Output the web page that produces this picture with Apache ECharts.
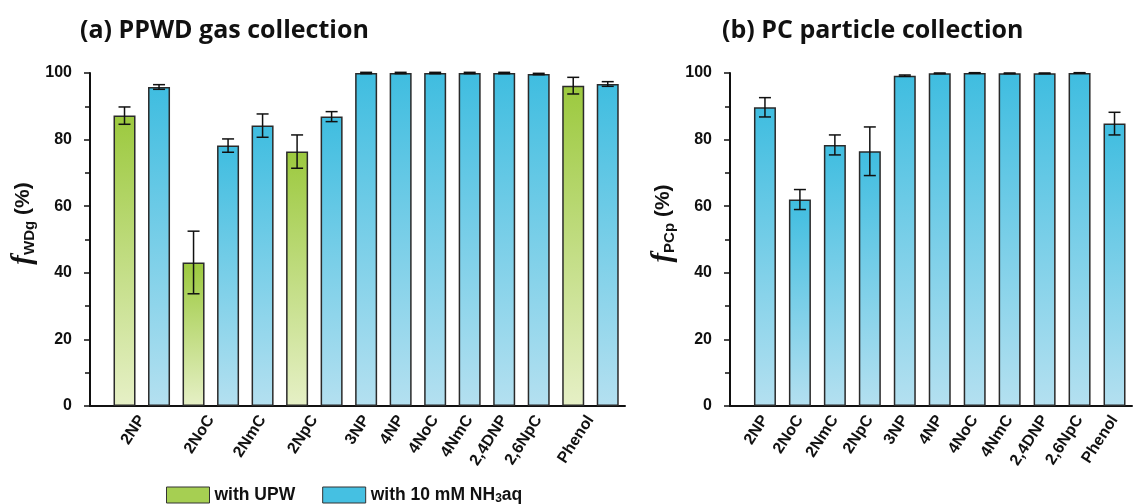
<!DOCTYPE html>
<html>
<head>
<meta charset="utf-8">
<script src="https://cdn.jsdelivr.net/npm/echarts@6/dist/echarts.min.js"></script>
<style>
  html, body { margin: 0; padding: 0; background: #fff; }
  #chart { width: 1135px; height: 504px; }
</style>
</head>
<body>
<div id="chart"></div>
<script>
// compounds, same order in both panels
var compounds = ['2NP', '2NoC', '2NmC', '2NpC', '3NP', '4NP', '4NoC', '4NmC', '2,4DNP', '2,6NpC', 'Phenol'];

// (a) PPWD gas collection, f_WDg (%)
var upwVals = [87.2, 43.1, null, 76.4, null, null, null, null, null, null, 96.2];
var upwErr  = [2.6, 9.4, null, 5.0, null, null, null, null, null, null, 2.5];
var nh3Vals = [95.8, 78.2, 84.2, 86.9, 100, 100, 100, 100, 100, 99.7, 96.7];
var nh3Err  = [0.7, 2.0, 3.5, 1.5, 0.2, 0.2, 0.2, 0.2, 0.2, 0.2, 0.7];

// (b) PC particle collection, f_PCp (%)
var pcVals = [89.7, 62.0, 78.4, 76.5, 99.2, 99.9, 100, 99.9, 99.9, 100, 84.8];
var pcErr  = [2.9, 3.0, 3.0, 7.3, 0.2, 0.1, 0.1, 0.1, 0.1, 0.1, 3.4];

var yTicks = [0, 20, 40, 60, 80, 100];

var greenGrad = new echarts.graphic.LinearGradient(0, 0, 0, 1, [
	{ offset: 0, color: '#9cc93e' }, { offset: 1, color: '#e6f0c6' }
]);
var blueGrad = new echarts.graphic.LinearGradient(0, 0, 0, 1, [
	{ offset: 0, color: '#3fbde0' }, { offset: 1, color: '#b4e0f0' }
]);

// lay the bars out slot by slot: a pair takes two slots, a single one
var leftGreen = [], leftBlue = [], leftErr = [], leftLabelPos = [];
var slot = 0;
compounds.forEach(function(name, i) {
	var first = slot;
	if (upwVals[i] != null) {
		leftGreen.push([slot, upwVals[i]]);
		leftErr.push([slot, upwVals[i] - upwErr[i], upwVals[i] + upwErr[i]]);
		slot++;
	}
	leftBlue.push([slot, nh3Vals[i]]);
	leftErr.push([slot, nh3Vals[i] - nh3Err[i], nh3Vals[i] + nh3Err[i]]);
	leftLabelPos.push((first + slot) / 2);
	slot++;
});
var leftSlots = slot;

var rightBlue = [], rightErr = [];
compounds.forEach(function(name, i) {
	rightBlue.push([i, pcVals[i]]);
	rightErr.push([i, pcVals[i] - pcErr[i], pcVals[i] + pcErr[i]]);
});

function labelAt(positions) {
	return function(v) {
		for (var k = 0; k < positions.length; k++) {
			if (Math.abs(positions[k] - v) < 0.01) return compounds[k];
		}
		return '';
	};
}

function renderErr(params, api) {
	var x = api.value(0);
	var top = api.coord([x, api.value(2)]);
	var bot = api.coord([x, api.value(1)]);
	var w = 6;
	var st = { stroke: '#111', lineWidth: 1.5 };
	return {
		type: 'group',
		children: [
			{ type: 'line', shape: { x1: top[0], y1: top[1], x2: bot[0], y2: bot[1] }, style: st },
			{ type: 'line', shape: { x1: top[0] - w, y1: top[1], x2: top[0] + w, y2: top[1] }, style: st },
			{ type: 'line', shape: { x1: bot[0] - w, y1: bot[1], x2: bot[0] + w, y2: bot[1] }, style: st }
		]
	};
}

var labelFont = { fontFamily: 'Liberation Sans, Arial, sans-serif', fontWeight: 'bold', color: '#111' };

function makeX(idx, slots, positions) {
	return {
		type: 'value', gridIndex: idx,
		min: -1, max: slots - 0.5, interval: 0.5,
		splitLine: { show: false },
		axisTick: { show: false },
		axisLine: { show: true, onZero: false, lineStyle: { color: '#111', width: 2 } },
		axisLabel: Object.assign({
			rotate: 57, fontSize: 16, margin: 11,
			showMinLabel: true, showMaxLabel: true,
			formatter: labelAt(positions)
		}, labelFont)
	};
}

function makeY(idx, sub) {
	return {
		type: 'value', gridIndex: idx,
		min: 0, max: 100, interval: 20,
		splitLine: { show: false },
		axisLine: { show: true, onZero: false, lineStyle: { color: '#111', width: 2 } },
		axisTick: { show: true, length: 6, lineStyle: { color: '#111', width: 1.5 } },
		minorTick: { show: true, splitNumber: 2, length: 5, lineStyle: { color: '#111', width: 1.5 } },
		axisLabel: Object.assign({
			fontSize: 16, margin: 18,
			formatter: function(v) { return yTicks.indexOf(v) >= 0 ? String(v) : ''; }
		}, labelFont),
		name: '{f|f}{s|' + sub + '}{p| (%)}',
		nameLocation: 'middle',
		nameRotate: 90,
		nameGap: 52,
		nameTextStyle: {
			padding: [0, 0, 0, 32],
			rich: {
				f: { fontFamily: 'Liberation Serif, serif', fontStyle: 'italic', fontWeight: 'bold', fontSize: 29, color: '#111' },
				s: { fontFamily: 'Liberation Sans, Arial, sans-serif', fontWeight: 'bold', fontSize: 15, color: '#111', padding: [12, 0, 0, 0] },
				p: { fontFamily: 'Liberation Sans, Arial, sans-serif', fontWeight: 'bold', fontSize: 21, color: '#111' }
			}
		}
	};
}

var barStyle = { borderColor: '#2a2a2a', borderWidth: 1.5 };
var titleStyle = { fontFamily: 'Open Sans, sans-serif', fontWeight: 'bold', fontSize: 25, color: '#111' };

var chart = echarts.init(document.getElementById('chart'));
var option = {
	animation: false,
	title: [
		{ text: '(a) PPWD gas collection', left: 75, top: 13, textStyle: titleStyle },
		{ text: '(b) PC particle collection', left: 717, top: 13, textStyle: titleStyle }
	],
	legend: {
		left: 161, top: 481,
		itemWidth: 43, itemHeight: 16, itemGap: 27,
		icon: 'rect',
		data: [
			{ name: 'with UPW', itemStyle: { color: '#a6cf52', borderColor: '#333', borderWidth: 1 } },
			{ name: 'with 10 mM NH3aq', itemStyle: { color: '#45c0e2', borderColor: '#333', borderWidth: 1 } }
		],
		formatter: function(name) {
			if (name == 'with 10 mM NH3aq') return '{a|with 10 mM NH}{s|3}{a|aq}';
			return '{a|' + name + '}';
		},
		textStyle: {
			rich: {
				a: { fontFamily: 'Liberation Sans, Arial, sans-serif', fontWeight: 'bold', fontSize: 17.5, color: '#111' },
				s: { fontFamily: 'Liberation Sans, Arial, sans-serif', fontWeight: 'bold', fontSize: 12, color: '#111', padding: [8, 0, 0, 0] }
			}
		}
	},
	grid: [
		{ left: 90, right: 1135 - 625, top: 73, bottom: 98 },
		{ left: 730, right: 3, top: 73, bottom: 98 }
	],
	xAxis: [makeX(0, leftSlots, leftLabelPos), makeX(1, compounds.length, compounds.map(function(c, i) { return i; }))],
	yAxis: [makeY(0, 'WDg'), makeY(1, 'PCp')],
	series: [
		{ name: 'with UPW', type: 'bar', xAxisIndex: 0, yAxisIndex: 0, barWidth: 22, barGap: '-100%',
		  itemStyle: Object.assign({ color: greenGrad }, barStyle), data: leftGreen },
		{ name: 'with 10 mM NH3aq', type: 'bar', xAxisIndex: 0, yAxisIndex: 0, barWidth: 22, barGap: '-100%',
		  itemStyle: Object.assign({ color: blueGrad }, barStyle), data: leftBlue },
		{ type: 'custom', xAxisIndex: 0, yAxisIndex: 0, renderItem: renderErr, data: leftErr, z: 10 },
		{ name: 'with 10 mM NH3aq', type: 'bar', xAxisIndex: 1, yAxisIndex: 1, barWidth: 22,
		  itemStyle: Object.assign({ color: blueGrad }, barStyle), data: rightBlue },
		{ type: 'custom', xAxisIndex: 1, yAxisIndex: 1, renderItem: renderErr, data: rightErr, z: 10 }
	]
};
chart.setOption(option);
</script>
</body>
</html>
